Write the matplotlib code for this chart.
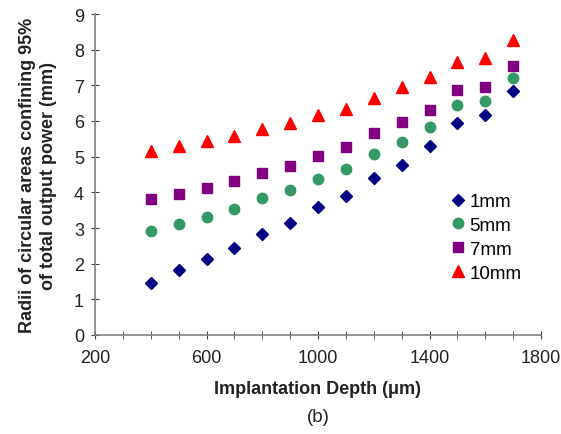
import matplotlib
matplotlib.use('Agg')
import matplotlib.pyplot as plt
from matplotlib.ticker import MultipleLocator

plt.rcParams['font.family'] = ['Liberation Sans', 'DejaVu Sans']

depth = [400, 500, 600, 700, 800, 900, 1000, 1100, 1200, 1300, 1400, 1500, 1600, 1700]
r_1mm = [1.47, 1.81, 2.13, 2.44, 2.83, 3.13, 3.60, 3.89, 4.40, 4.76, 5.29, 5.95, 6.18, 6.83]
r_5mm = [2.92, 3.12, 3.32, 3.52, 3.83, 4.06, 4.38, 4.65, 5.08, 5.42, 5.83, 6.46, 6.56, 7.20]
r_7mm = [3.80, 3.96, 4.12, 4.32, 4.55, 4.75, 5.03, 5.26, 5.65, 5.96, 6.32, 6.86, 6.96, 7.54]
r_10mm = [5.15, 5.30, 5.43, 5.58, 5.77, 5.93, 6.17, 6.35, 6.65, 6.94, 7.22, 7.66, 7.77, 8.26]
xticks = [200, 600, 1000, 1400, 1800]

W, H = 561, 435
fig = plt.figure(figsize=(W/100, H/100), dpi=100)
ax = fig.add_axes([95/W, (H-336)/H, (541-95)/W, (336-15)/H])

ax.plot(depth, r_1mm, 'D', color='#000080', ms=6, ls='none', label='1mm')
ax.plot(depth, r_5mm, 'o', color='#339966', ms=7.5, ls='none', label='5mm')
ax.plot(depth, r_7mm, 's', color='#800080', ms=6.5, ls='none', label='7mm')
ax.plot(depth, r_10mm, '^', color='#FF0000', ms=8, ls='none', label='10mm')

ax.set_xlim(200, 1800)
ax.set_ylim(0, 9)
ax.set_xticks(xticks)
ax.xaxis.set_minor_locator(MultipleLocator(100))
ax.yaxis.set_major_locator(MultipleLocator(1))

for s in ['top', 'right']:
    ax.spines[s].set_visible(False)
for s in ['left', 'bottom']:
    ax.spines[s].set_color('#808080')
    ax.spines[s].set_linewidth(1.2)

ax.tick_params(which='major', direction='inout', length=6, color='#404040',
               labelsize=13, labelcolor='#222222')
ax.tick_params(which='minor', direction='out', length=3, color='#404040')
ax.tick_params(axis='x', which='both', direction='inout', length=6)
ax.tick_params(axis='x', which='major', pad=7)
ax.tick_params(axis='y', which='major', pad=5)

ax.set_xlabel('Implantation Depth (\u03bcm)', fontsize=13, fontweight='bold', color='#222222', labelpad=10)
ax.set_ylabel('Radii of circular areas confining 95%\nof total output power (mm)',
              fontsize=13, fontweight='bold', color='#222222', labelpad=12, linespacing=1.3)

ax.legend(loc='upper left', bbox_to_anchor=(449/W, 1 - 194/H), bbox_transform=fig.transFigure,
          frameon=False, borderpad=0, borderaxespad=0, fontsize=13.5,
          handletextpad=0.1, labelspacing=0.36, handlelength=1.0)

fig.text(318/W, 1 - 418/H, '(b)', ha='center', va='center', fontsize=13.5, color='#222222')

fig.savefig('out.png', dpi=100)
